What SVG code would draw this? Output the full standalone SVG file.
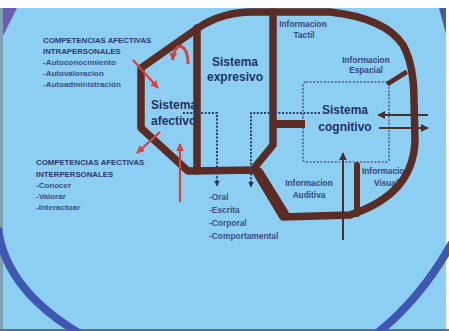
<svg xmlns="http://www.w3.org/2000/svg" width="449" height="331" viewBox="0 0 449 331">
<defs>
<style>
.brown{fill:none;stroke:#5a2c24;stroke-width:7.5;stroke-linejoin:round;stroke-linecap:round}
.dot{fill:none;stroke:#2e3f74;stroke-width:2;stroke-dasharray:2 1.6}
.red{fill:none;stroke:#d8413c;stroke-width:2.2}
.dark{fill:none;stroke:#4a302c;stroke-width:2}
.sys{font-family:"Liberation Sans",Arial,sans-serif;font-weight:bold;font-size:12px;fill:#243263}
.info{font-family:"Liberation Sans",Arial,sans-serif;font-weight:bold;font-size:8.3px;fill:#34467e}
.head{font-family:"Liberation Sans",Arial,sans-serif;font-weight:bold;font-size:7.8px;fill:#2a3a70}
.item{font-family:"Liberation Sans",Arial,sans-serif;font-weight:bold;font-size:8px;fill:#3b4f88}
.arc{fill:none;stroke:#3f56b2;stroke-width:8}
</style>
<marker id="mr" viewBox="0 0 10 10" refX="9" refY="5" markerWidth="8" markerHeight="8" markerUnits="userSpaceOnUse" orient="auto"><path d="M0,0 L10,5 L0,10 z" fill="#d8413c"/></marker>
<marker id="mn" viewBox="0 0 10 10" refX="9" refY="5" markerWidth="6" markerHeight="6" markerUnits="userSpaceOnUse" orient="auto"><path d="M0,0 L10,5 L0,10 z" fill="#3a3550"/></marker>
<marker id="md" viewBox="0 0 10 10" refX="9" refY="5" markerWidth="8" markerHeight="8" markerUnits="userSpaceOnUse" orient="auto"><path d="M0,0 L10,5 L0,10 z" fill="#4a302c"/></marker>
</defs>
<rect x="0" y="0" width="449" height="331" fill="#ffffff"/>
<rect x="3" y="8" width="443" height="321" fill="#8dcff2"/>
<rect x="0" y="329" width="449" height="2" fill="#5d6f80"/>
<rect x="0" y="8" width="3" height="321" fill="#7f9fb5"/>
<g id="decor">
<path class="arc" d="M -2 228 Q 5 290 82 335"/>
<path class="arc" d="M 452 243 Q 420 300 375 335"/>
<polygon points="3,8 17,8 3,36" fill="#6a5fb2"/>
<polygon points="439,8 446,8 446,34" fill="#4a56a8"/>
</g>
<g id="sistema-cognitivo">
<rect x="303" y="82" width="86" height="80" rx="3" class="dot" style="stroke-width:1.6;stroke:#47608e"/>
<text class="sys" x="345" y="114" text-anchor="middle">Sistema</text>
<text class="sys" x="345" y="131" text-anchor="middle">cognitivo</text>
</g>
<g id="info-visual">
<text class="info" x="362" y="174">Informacion</text>
<text class="info" x="374" y="186">Visual</text>
</g>
<g id="outline">
<path class="brown" d="M 141 128 L 141 68 L 198 28 Q 222 12 252 12 L 330 12 Q 385 18 403 45 Q 414 65 414 100 L 415 140 C 414 175 395 200 350 215 L 283 217 L 255 170 L 188 171 Z"/>
<path class="brown" d="M 197 28 L 197 171"/>
<path class="brown" d="M 273 12 L 273 145 L 255 167"/>
<path class="brown" d="M 273 124 L 305 124" style="stroke-width:8;stroke-linecap:butt"/>
<path class="brown" d="M 389 83 L 405 73" style="stroke-width:5"/>
<path class="brown" d="M 357 165 L 357 214" style="stroke-width:6"/>
<path class="brown" d="M 258 172 L 284 214" style="stroke-width:10"/>
</g>
<g id="connectors">
<path class="dot" d="M 183 113 L 217 113 L 217 186" marker-end="url(#mn)"/>
<path class="dot" d="M 320 113 L 251 113 L 251 187" marker-end="url(#mn)"/>
<path class="red" d="M 133 60 L 158 88" marker-end="url(#mr)"/>
<path class="red" d="M 160 132 L 137 153" marker-end="url(#mr)"/>
<path class="red" d="M 180 202 L 180 144" marker-end="url(#mr)"/>
<path class="red" d="M 188 64 C 189 45 175 38 172.5 60" style="stroke-width:3" marker-end="url(#mr)"/>
<path class="dark" d="M 428 115 L 378 115" marker-end="url(#md)"/>
<path class="dark" d="M 379 128 L 428 128" marker-end="url(#md)"/>
<path class="dark" d="M 343 240 L 343 153" marker-end="url(#md)"/>
</g>
<g id="sistema-afectivo">
<text class="sys" x="151" y="109">Sistema</text>
<text class="sys" x="151" y="125">afectivo</text>
</g>
<g id="sistema-expresivo">
<text class="sys" x="235" y="66" text-anchor="middle">Sistema</text>
<text class="sys" x="235" y="81" text-anchor="middle">expresivo</text>
</g>
<g id="info-tactil">
<text class="info" x="303" y="27" text-anchor="middle">Informacion</text>
<text class="info" x="304" y="38" text-anchor="middle">Tactil</text>
</g>
<g id="info-espacial">
<text class="info" x="366" y="63" text-anchor="middle">Informacion</text>
<text class="info" x="366" y="73" text-anchor="middle">Espacial</text>
</g>
<g id="info-auditiva">
<text class="info" x="309" y="186" text-anchor="middle">Informacion</text>
<text class="info" x="309" y="198" text-anchor="middle">Auditiva</text>
</g>
<g id="competencias-intra">
<text class="head" x="43" y="43">COMPETENCIAS AFECTIVAS</text>
<text class="head" x="43" y="54">INTRAPERSONALES</text>
<text class="item" x="43" y="65">-Autoconocimiento</text>
<text class="item" x="43" y="76">-Autovaloracion</text>
<text class="item" x="43" y="87">-Autoadministración</text>
</g>
<g id="competencias-inter">
<text class="head" x="36" y="165">COMPETENCIAS AFECTIVAS</text>
<text class="head" x="36" y="177">INTERPERSONALES</text>
<text class="item" x="36" y="188">-Conocer</text>
<text class="item" x="36" y="199">-Valorar</text>
<text class="item" x="36" y="210">-Interactuar</text>
</g>
<g id="expresion">
<text class="item" x="209" y="200" style="font-size:8.4px">-Oral</text>
<text class="item" x="209" y="213" style="font-size:8.4px">-Escrita</text>
<text class="item" x="209" y="226" style="font-size:8.4px">-Corporal</text>
<text class="item" x="209" y="239" style="font-size:8.4px">-Comportamental</text>
</g>
</svg>
